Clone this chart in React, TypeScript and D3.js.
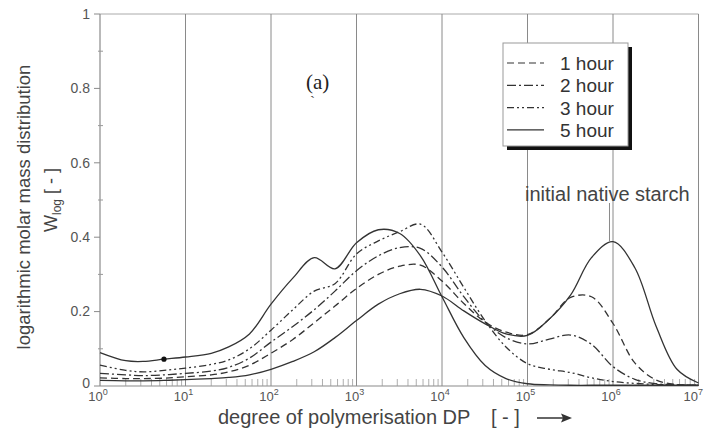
import React from "react";
import * as d3 from "d3";

// Degree of polymerisation sampling points (shared by all series)
const DP = [1, 2, 3.2, 5.6, 10, 20, 32, 56, 100, 180, 320, 560, 1000, 1800, 3200, 5600, 1e4, 1.8e4, 3.2e4, 5.6e4, 1e5, 1.8e5, 3.2e5, 5.6e5, 1e6, 1.8e6, 3.2e6, 5.6e6, 1e7];

// Logarithmic molar mass distribution W_log for each treatment time
const nativeStarch = [0.015, 0.014, 0.014, 0.015, 0.017, 0.02, 0.023, 0.03, 0.045, 0.066, 0.092, 0.13, 0.176, 0.22, 0.248, 0.26, 0.242, 0.202, 0.167, 0.14, 0.136, 0.18, 0.245, 0.345, 0.388, 0.318, 0.16, 0.045, 0.008];
const hour1 = [0.022, 0.02, 0.02, 0.021, 0.025, 0.03, 0.038, 0.056, 0.088, 0.125, 0.17, 0.215, 0.262, 0.3, 0.322, 0.325, 0.282, 0.222, 0.172, 0.145, 0.138, 0.18, 0.238, 0.24, 0.168, 0.062, 0.016, 0.004, 0.002];
const hour2 = [0.034, 0.03, 0.028, 0.03, 0.034, 0.04, 0.05, 0.075, 0.118, 0.16, 0.205, 0.255, 0.31, 0.35, 0.372, 0.37, 0.32, 0.24, 0.172, 0.13, 0.113, 0.126, 0.137, 0.112, 0.052, 0.018, 0.006, 0.003, 0.002];
const hour3 = [0.056, 0.042, 0.038, 0.042, 0.048, 0.058, 0.07, 0.1, 0.15, 0.205, 0.255, 0.275, 0.355, 0.39, 0.415, 0.435, 0.36, 0.265, 0.175, 0.105, 0.06, 0.045, 0.036, 0.022, 0.012, 0.007, 0.004, 0.003, 0.002];
const hour5 = [0.09, 0.068, 0.066, 0.072, 0.078, 0.088, 0.105, 0.14, 0.22, 0.29, 0.345, 0.315, 0.385, 0.42, 0.41, 0.35, 0.24, 0.13, 0.055, 0.02, 0.006, 0.003, 0.002, 0.002, 0.002, 0.002, 0.002, 0.002, 0.002];

const legendLabels = ["1 hour", "2 hour", "3 hour", "5 hour"];
const yTicks = [0, 0.2, 0.4, 0.6, 0.8, 1];
const yTickLabels = ["0", "0.2", "0.4", "0.6", "0.8", "1"];
const yMinorTicks = [0.1, 0.3, 0.5, 0.7, 0.9];
const xExponents = [0, 1, 2, 3, 4, 5, 6, 7];
const nativePeakDP = 9.1e5;
const markerDP = 5.6;

const W = 704;
const H = 433;
const left = 100;
const right = 698.5;
const top = 14;
const bottom = 386;

const ink = "#333";
const grid = "#8a8a8a";
const sans = "'Liberation Sans', Arial, Helvetica, sans-serif";
const serif = "'Liberation Serif', 'Times New Roman', serif";

export default function App() {
  const x = d3.scaleLog().domain([1, 1e7]).range([left, right]);
  const y = d3.scaleLinear().domain([0, 1]).range([bottom, top]);

  const line = d3
    .line<number>()
    .x((_, i) => x(DP[i]))
    .y((v) => y(v))
    .curve(d3.curveCatmullRom.alpha(0.5));

  const series = [
    { values: nativeStarch, dash: undefined as string | undefined },
    { values: hour1, dash: "7,4" },
    { values: hour2, dash: "9,3,2,3" },
    { values: hour3, dash: "7,3,2,3,2,3" },
    { values: hour5, dash: undefined as string | undefined },
  ];
  const legendDash = [series[1].dash, series[2].dash, series[3].dash, undefined];

  const minorX: number[] = [];
  for (let e = 0; e < 7; e++) for (let m = 2; m <= 9; m++) minorX.push(m * Math.pow(10, e));

  const markerIdx = DP.indexOf(markerDP);
  const nativePeak = d3.max(nativeStarch) as number;

  const lx = 503;
  const ly = 43;
  const lw = 125;
  const lh = 103;

  return (
    <svg width={W} height={H} style={{ position: "absolute", left: 0, top: 0, background: "#fff" }}>
      {/* frame */}
      <line x1={left} x2={right} y1={top} y2={top} stroke="#aaa" strokeWidth={1} />
      <line x1={right} x2={right} y1={top} y2={bottom} stroke={grid} strokeWidth={1} />
      <line x1={left} x2={left} y1={top} y2={bottom} stroke={grid} strokeWidth={1.2} />
      <line x1={left} x2={right} y1={bottom} y2={bottom} stroke={grid} strokeWidth={1.2} />

      {/* decade grid lines */}
      {xExponents.slice(1, -1).map((e) => (
        <line key={e} x1={x(Math.pow(10, e))} x2={x(Math.pow(10, e))} y1={top} y2={bottom} stroke={grid} strokeWidth={1} />
      ))}

      {/* minor x ticks */}
      {minorX.map((v) => (
        <line key={v} x1={x(v)} x2={x(v)} y1={bottom} y2={bottom - 7} stroke="#999" strokeWidth={0.8} />
      ))}

      {/* y ticks */}
      {yTicks.map((t, i) => (
        <g key={t}>
          <line x1={left - 6} x2={left} y1={y(t)} y2={y(t)} stroke={grid} strokeWidth={1} />
          <text
            x={left - 10}
            y={t === 0 ? y(t) - 2 : y(t) + 1}
            textAnchor="end"
            dominantBaseline="middle"
            fontFamily={sans}
            fontSize={14}
            fill="#555"
          >
            {yTickLabels[i]}
          </text>
        </g>
      ))}
      {yMinorTicks.map((t) => (
        <line key={t} x1={left - 2} x2={left + 3} y1={y(t)} y2={y(t)} stroke="#999" strokeWidth={1} />
      ))}

      {/* x tick labels */}
      {xExponents.map((e, i) => {
        const last = i === xExponents.length - 1;
        return (
          <text
            key={e}
            x={last ? W - 1 : x(Math.pow(10, e)) - 2}
            y={401}
            textAnchor={last ? "end" : "middle"}
            fontFamily={sans}
            fontSize={13}
            fill="#555"
          >
            10
            <tspan fontSize={9} dy={-6}>
              {e}
            </tspan>
          </text>
        );
      })}

      {/* curves */}
      {series.map((s, i) => (
        <path
          key={i}
          d={line(s.values) as string}
          fill="none"
          stroke={ink}
          strokeWidth={1.3}
          strokeDasharray={s.dash}
        />
      ))}

      {/* marker on the 5 hour curve */}
      <circle cx={x(DP[markerIdx])} cy={y(hour5[markerIdx])} r={2.6} fill="#111" />

      {/* initial native starch annotation */}
      <line x1={x(nativePeakDP)} x2={x(nativePeakDP)} y1={203} y2={y(nativePeak)} stroke={grid} strokeWidth={1} />
      <text x={525} y={201} fontFamily={sans} fontSize={20} fill="#444">
        initial native starch
      </text>

      {/* (a) label */}
      <text x={306} y={89} fontFamily={serif} fontSize={21} fill="#222">
        (a)
      </text>
      <text x={310} y={106} fontFamily={serif} fontSize={15} fill="#444">
        `
      </text>

      {/* legend */}
      <rect x={lx + 4} y={ly + 4} width={lw} height={lh} fill="#111" />
      <rect x={lx} y={ly} width={lw} height={lh} fill="#fff" stroke="#999" strokeWidth={1} />
      {legendLabels.map((lab, i) => {
        const cy = ly + 20 + i * 22.3;
        return (
          <g key={lab}>
            <line x1={lx + 4} x2={lx + 41} y1={cy} y2={cy} stroke={ink} strokeWidth={1.2} strokeDasharray={legendDash[i]} />
            <text x={lx + 57} y={cy + 7} fontFamily={sans} fontSize={19} fill="#333">
              {lab}
            </text>
          </g>
        );
      })}

      {/* axis titles */}
      <text
        transform={`translate(30,207) rotate(-90)`}
        textAnchor="middle"
        fontFamily={sans}
        fontSize={18.5}
        fill="#444"
      >
        logarithmic molar mass distribution
      </text>
      <text transform={`translate(57,200) rotate(-90)`} textAnchor="middle" fontFamily={sans} fontSize={18} fill="#444">
        W
        <tspan fontSize={12} dy={4}>
          log
        </tspan>
        <tspan dy={-4}>{"  [ - ]"}</tspan>
      </text>
      <text x={218} y={424} fontFamily={sans} fontSize={20} fill="#444">
        degree of polymerisation DP
      </text>
      <text x={491} y={424} fontFamily={sans} fontSize={20} fill="#444">
        [ - ]
      </text>
      <line x1={537} x2={565} y1={418} y2={418} stroke="#333" strokeWidth={1.5} />
      <path d="M 572 418 L 561 413.5 L 563 418 L 561 422.5 Z" fill="#333" />
    </svg>
  );
}
